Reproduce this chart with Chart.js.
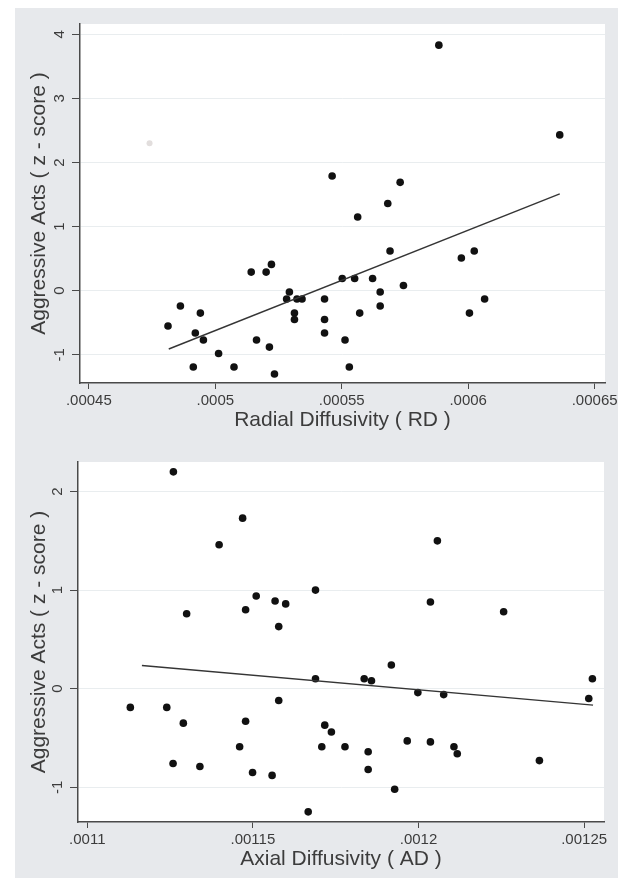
<html>
<head>
    <meta charset="utf-8" />
    <title>Diffusivity vs aggressive acts</title>
    <style>
        body { margin: 0; background: #ffffff; }
        .panel { position: absolute; left: 15px; top: 8px; width: 603px; height: 870px; background: #e7e9ec; }
        .box { position: absolute; left: 0; }
        #top-box { top: 0; }
        #bottom-box { top: 440px; }
    </style>
    <script src="https://cdn.jsdelivr.net/npm/chart.js"></script>
</head>
<body>
    <div class="panel"></div>
    <div class="box" id="top-box"><canvas id="rdChart" width="627" height="440"></canvas></div>
    <div class="box" id="bottom-box"><canvas id="adChart" width="627" height="439"></canvas></div>

<script>
// ---- top chart: radial diffusivity ----
var rdX = [0.0005884, 0.0006362, 0.0005462, 0.0005731, 0.0005682, 0.0005563, 0.0005691, 0.0005973,
    0.0006024, 0.0005142, 0.0005201, 0.0005222, 0.0005502, 0.0005551, 0.0005622, 0.0005744,
    0.0005652, 0.0005293, 0.0005282, 0.0005323, 0.0005343, 0.0005432, 0.0006065, 0.0004862,
    0.0005652, 0.0004941, 0.0005313, 0.0005571, 0.0006005, 0.0004813, 0.0005313, 0.0005432,
    0.0004921, 0.0005432, 0.0004953, 0.0005163, 0.0005513, 0.0005214, 0.0005013, 0.0004913,
    0.0005074, 0.000553, 0.0005234];
var rdY = [3.83, 2.43, 1.79, 1.69, 1.36, 1.15, 0.62, 0.51,
    0.62, 0.29, 0.29, 0.41, 0.19, 0.19, 0.19, 0.08,
    -0.02, -0.02, -0.13, -0.13, -0.13, -0.13, -0.13, -0.24,
    -0.24, -0.35, -0.35, -0.35, -0.35, -0.55, -0.45, -0.45,
    -0.66, -0.66, -0.77, -0.77, -0.77, -0.88, -0.98, -1.19,
    -1.19, -1.19, -1.30];
// faint grey speck left of the cloud
var rdFaintX = [0.000474];
var rdFaintY = [2.30];
// fitted line end points
var rdFitX = [0.0004816, 0.0006362];
var rdFitY = [-0.91, 1.51];
var rdXTicks = [0.00045, 0.0005, 0.00055, 0.0006, 0.00065];
var rdXLabels = [".00045", ".0005", ".00055", ".0006", ".00065"];
var rdYTicks = [-1, 0, 1, 2, 3, 4];

// ---- bottom chart: axial diffusivity ----
var adX = [0.001126, 0.0011469, 0.0011398, 0.0012057, 0.0011689, 0.001151, 0.0011567, 0.0011599,
    0.0012036, 0.0011478, 0.00113, 0.0012257, 0.0011578, 0.0011918, 0.0011689, 0.0011836,
    0.0011858, 0.0012525, 0.0012514, 0.0011998, 0.0012076, 0.0011578, 0.001113, 0.001124,
    0.0011478, 0.001129, 0.0011717, 0.0011737, 0.0011966, 0.0012036, 0.001146, 0.0011708,
    0.0011778, 0.0012107, 0.0012117, 0.0011848, 0.0011259, 0.001134, 0.0012365, 0.0011848,
    0.0011499, 0.0011558, 0.0011928, 0.0011667];
var adY = [2.20, 1.73, 1.46, 1.50, 1.00, 0.94, 0.89, 0.86,
    0.88, 0.80, 0.76, 0.78, 0.63, 0.24, 0.10, 0.10,
    0.08, 0.10, -0.10, -0.04, -0.06, -0.12, -0.19, -0.19,
    -0.33, -0.35, -0.37, -0.44, -0.53, -0.54, -0.59, -0.59,
    -0.59, -0.59, -0.66, -0.64, -0.76, -0.79, -0.73, -0.82,
    -0.85, -0.88, -1.02, -1.25];
var adFitX = [0.0011165, 0.0012527];
var adFitY = [0.235, -0.167];
var adXTicks = [0.0011, 0.00115, 0.0012, 0.00125];
var adXLabels = [".0011", ".00115", ".0012", ".00125"];
var adYTicks = [-1, 0, 1, 2];

var axisColor = "#4a4a4a";
var textColor = "#3c3c3c";
var fontFamily = "'Liberation Sans', Arial, sans-serif";

function toPoints(xs, ys) {
    var pts = [];
    for (var i = 0; i < xs.length; i++) {
        pts.push({ x: xs[i], y: ys[i] });
    }
    return pts;
}

// white plot region like the stata plotregion
var plotRegionBg = {
    id: 'plotRegionBg',
    beforeDraw: function (chart) {
        var a = chart.chartArea;
        var ctx = chart.ctx;
        ctx.save();
        ctx.fillStyle = "#ffffff";
        ctx.fillRect(a.left, a.top, a.right - a.left, a.bottom - a.top);
        ctx.restore();
    }
};

function makeChart(canvasId, cfg) {
    var datasets = [
        {
            type: 'line',
            data: toPoints(cfg.fitX, cfg.fitY),
            borderColor: "#353535",
            borderWidth: 1.4,
            pointRadius: 0,
            fill: false
        },
        {
            type: 'scatter',
            data: toPoints(cfg.xs, cfg.ys),
            backgroundColor: "#111111",
            borderColor: "#111111",
            borderWidth: 0,
            pointRadius: 3.8
        }
    ];
    if (cfg.faintX) {
        datasets.push({
            type: 'scatter',
            data: toPoints(cfg.faintX, cfg.faintY),
            backgroundColor: "#e2dedd",
            borderWidth: 0,
            pointRadius: 3
        });
    }

    return new Chart(document.getElementById(canvasId), {
        type: 'scatter',
        data: { datasets: datasets },
        plugins: [plotRegionBg],
        options: {
            responsive: false,
            animation: false,
            events: [],
            layout: { padding: cfg.padding },
            plugins: { legend: { display: false }, tooltip: { enabled: false } },
            scales: {
                x: {
                    type: 'linear',
                    min: cfg.xMin,
                    max: cfg.xMax,
                    afterBuildTicks: function (scale) {
                        scale.ticks = cfg.xTicks.map(function (v) { return { value: v }; });
                    },
                    afterFit: function (scale) { scale.height = cfg.xAxisHeight; },
                    ticks: {
                        autoSkip: false,
                        maxRotation: 0,
                        padding: 3,
                        color: textColor,
                        font: { family: fontFamily, size: 15 },
                        callback: function (value, index) { return cfg.xLabels[index]; }
                    },
                    grid: { drawOnChartArea: false, tickLength: 6, tickColor: axisColor, tickWidth: 1 },
                    border: { color: axisColor, width: 1.5 },
                    title: {
                        display: true,
                        text: cfg.xTitle,
                        color: textColor,
                        font: { family: fontFamily, size: 21 },
                        padding: { top: 0, bottom: cfg.xTitlePad }
                    }
                },
                y: {
                    type: 'linear',
                    min: cfg.yMin,
                    max: cfg.yMax,
                    afterBuildTicks: function (scale) {
                        scale.ticks = cfg.yTicks.map(function (v) { return { value: v }; });
                    },
                    afterFit: function (scale) { scale.width = cfg.yAxisWidth; },
                    ticks: {
                        autoSkip: false,
                        minRotation: 90,
                        maxRotation: 90,
                        crossAlign: 'center',
                        padding: 5,
                        color: textColor,
                        font: { family: fontFamily, size: 15 }
                    },
                    grid: { color: "#e9edef", lineWidth: 1, tickLength: 8, tickColor: axisColor, tickWidth: 1 },
                    border: { color: axisColor, width: 1.5 },
                    title: {
                        display: true,
                        text: "Aggressive Acts ( z - score )",
                        color: textColor,
                        font: { family: fontFamily, size: 21 },
                        padding: { top: 27, bottom: 0 }
                    }
                }
            }
        }
    });
}

makeChart("rdChart", {
    xs: rdX, ys: rdY, faintX: rdFaintX, faintY: rdFaintY,
    fitX: rdFitX, fitY: rdFitY,
    xTicks: rdXTicks, xLabels: rdXLabels, yTicks: rdYTicks,
    xMin: 0.0004465, xMax: 0.0006541, yMin: -1.44, yMax: 4.16,
    xTitle: "Radial Diffusivity ( RD )",
    padding: { left: 0, right: 22, top: 24, bottom: 0 },
    yAxisWidth: 80, xAxisHeight: 57, xTitlePad: 7
});

makeChart("adChart", {
    xs: adX, ys: adY,
    fitX: adFitX, fitY: adFitY,
    xTicks: adXTicks, xLabels: adXLabels, yTicks: adYTicks,
    xMin: 0.0010972, xMax: 0.001256, yMin: -1.353, yMax: 2.30,
    xTitle: "Axial Diffusivity ( AD )",
    padding: { left: 0, right: 23, top: 22, bottom: 0 },
    yAxisWidth: 78, xAxisHeight: 57, xTitlePad: 7
});
</script>
</body>
</html>
